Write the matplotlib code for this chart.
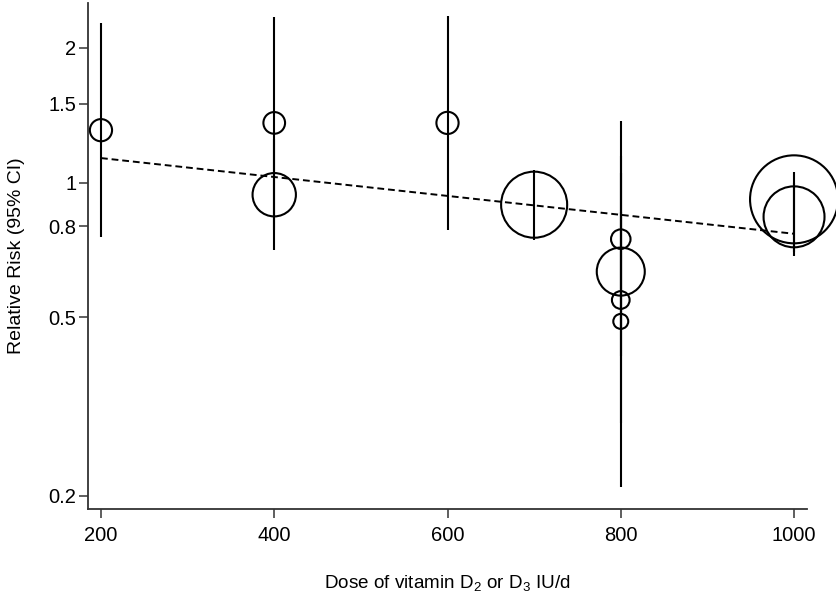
import matplotlib
matplotlib.use("Agg")
import matplotlib.pyplot as plt
from matplotlib.ticker import FixedLocator, FixedFormatter, NullLocator

plt.rcParams['font.family'] = ['Liberation Sans', 'DejaVu Sans']
plt.rcParams['mathtext.fontset'] = 'custom'
plt.rcParams['mathtext.rm'] = 'Liberation Sans'
plt.rcParams['mathtext.it'] = 'Liberation Sans:italic'

# Studies: daily dose, relative risk with 95% CI, weight (%)
dose = [200, 400, 400, 600, 700, 800, 800, 800, 800, 1000, 1000]
rr = [1.31, 1.36, 0.94, 1.36, 0.893, 0.748, 0.633, 0.547, 0.490, 0.918, 0.839]
ci_low = [0.755, 0.708, 0.785, 0.785, 0.743, 0.41, 0.47, 0.29, 0.209, 0.70, 0.687]
ci_high = [2.27, 2.35, 1.25, 2.36, 1.069, 1.37, 0.86, 1.05, 1.15, 1.00, 1.054]
weight = [2.2, 2.1, 8.4, 2.2, 19.5, 1.7, 10.3, 1.4, 1.0, 34.6, 16.6]

# Meta-regression line (log RR linear in dose)
fit_dose = [200, 1000]
fit_rr = [1.135, 0.769]

yticks = [0.2, 0.5, 0.8, 1, 1.5, 2]
ytick_labels = ['0.2', '0.5', '0.8', '1', '1.5', '2']
xticks = [200, 400, 600, 800, 1000]

fig = plt.figure(figsize=(8.37, 5.97), dpi=100)
ax = fig.add_axes([0.1051, 0.1474, 0.8591, 0.8476])

ax.vlines(dose, ci_low, ci_high, color='black', lw=1.5, zorder=2)
ax.scatter(dose, rr, s=[w * 116 for w in weight], facecolors='none',
           edgecolors='black', linewidths=1.5, zorder=3, clip_on=False)
ax.plot(fit_dose, fit_rr, color='black', lw=1.4, ls=(0, (3.5, 2)), zorder=4)

ax.set_yscale('log')
ax.set_ylim(0.1867, 2.52)
ax.set_xlim(185, 1015)
ax.yaxis.set_major_locator(FixedLocator(yticks))
ax.yaxis.set_major_formatter(FixedFormatter(ytick_labels))
ax.yaxis.set_minor_locator(NullLocator())
ax.set_xticks(xticks)
ax.set_xticklabels([str(x) for x in xticks])

for side in ['top', 'right']:
    ax.spines[side].set_visible(False)
for side in ['left', 'bottom']:
    ax.spines[side].set_color('#333333')
    ax.spines[side].set_linewidth(1.3)

ax.tick_params(axis='both', direction='out', length=6.5, width=1.1,
               color='#333333', labelsize=14.5)
ax.tick_params(axis='x', pad=6)
ax.tick_params(axis='y', pad=2)

ax.set_xlabel('Dose of vitamin D$_2$ or D$_3$ IU/d', fontsize=13.6)
ax.set_ylabel('Relative Risk (95% CI)', fontsize=14)
ax.xaxis.set_label_coords(0.5, -0.126)
ax.yaxis.set_label_coords(-0.087, 0.5)

fig.savefig('out.png', dpi=100)
